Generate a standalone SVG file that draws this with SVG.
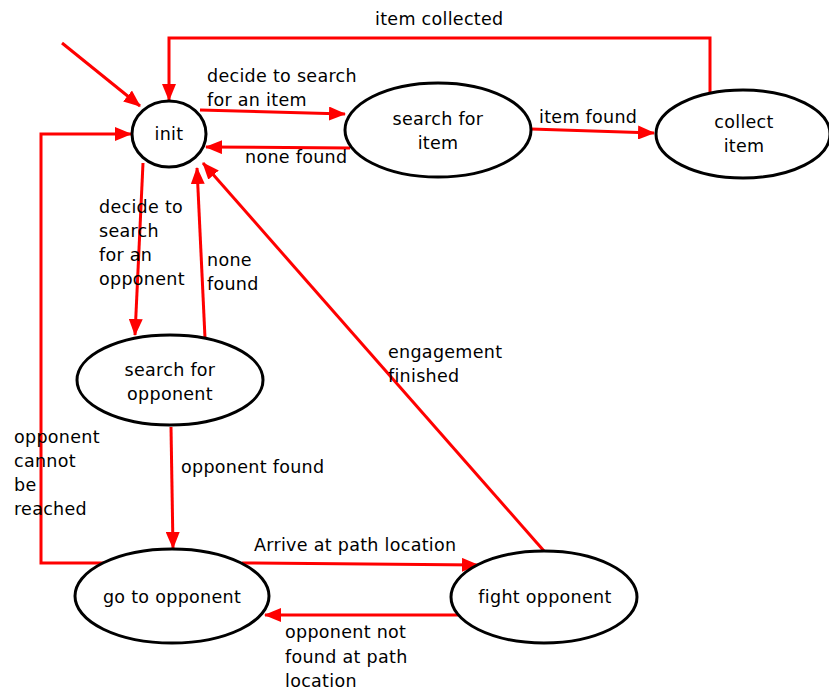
<svg xmlns="http://www.w3.org/2000/svg" width="829" height="693" viewBox="0 0 829 693">
<style>
text{font-family:"DejaVu Sans","Liberation Sans",sans-serif;font-size:17.5px;letter-spacing:0.3px;fill:#000}
.c{text-anchor:middle}
.n{fill:#fff;stroke:#000;stroke-width:3}
.e{fill:none;stroke:#f00;stroke-width:3;marker-end:url(#ah)}
</style>
<defs>
<marker id="ah" markerUnits="userSpaceOnUse" markerWidth="17" markerHeight="14" refX="16" refY="7" orient="auto">
<path d="M0,0 L17,7 L0,14 z" fill="#f00"/>
</marker>
</defs>
<g id="connectors">
<line class="e" x1="62" y1="43" x2="140" y2="106"/>
<polyline class="e" points="710,92 710,38 169,38 169,100"/>
<line class="e" x1="200" y1="110" x2="345" y2="114"/>
<line class="e" x1="350" y1="148" x2="206" y2="147"/>
<line class="e" x1="531" y1="129" x2="654" y2="133"/>
<line class="e" x1="143" y1="163" x2="135" y2="335"/>
<line class="e" x1="205" y1="338" x2="197" y2="168"/>
<line class="e" x1="544" y1="551" x2="203" y2="163"/>
<line class="e" x1="171" y1="427" x2="173" y2="548"/>
<polyline class="e" points="104,563 41,563 41,134 131,134"/>
<line class="e" x1="242" y1="563" x2="478" y2="565"/>
<line class="e" x1="458" y1="615" x2="265" y2="615"/>
</g>
<g id="labels">
<text x="375" y="25">item collected</text>
<text x="207" y="82">decide to search</text>
<text x="207" y="106">for an item</text>
<text x="245" y="163">none found</text>
<text x="539" y="123">item found</text>
<text x="99" y="213">decide to</text>
<text x="99" y="237">search</text>
<text x="99" y="261">for an</text>
<text x="99" y="285">opponent</text>
<text x="207" y="266">none</text>
<text x="207" y="290">found</text>
<text x="388" y="358">engagement</text>
<text x="388" y="382">finished</text>
<text x="14" y="443">opponent</text>
<text x="14" y="467">cannot</text>
<text x="14" y="491">be</text>
<text x="14" y="515">reached</text>
<text x="181" y="473">opponent found</text>
<text x="254" y="551">Arrive at path location</text>
<text x="285" y="638">opponent not</text>
<text x="285" y="663">found at path</text>
<text x="285" y="687">location</text>
</g>
<g id="init">
<ellipse class="n" cx="169" cy="134" rx="37" ry="33"/>
<text class="c" x="169" y="140">init</text>
</g>
<g id="search-item">
<ellipse class="n" cx="438" cy="130" rx="93" ry="47"/>
<text class="c" x="438" y="125">search for</text>
<text class="c" x="438" y="149">item</text>
</g>
<g id="collect-item">
<ellipse class="n" cx="743" cy="134" rx="87" ry="44"/>
<text class="c" x="744" y="128">collect</text>
<text class="c" x="744" y="152">item</text>
</g>
<g id="search-opponent">
<ellipse class="n" cx="170" cy="380" rx="93" ry="45"/>
<text class="c" x="170" y="376">search for</text>
<text class="c" x="170" y="400">opponent</text>
</g>
<g id="go-to-opponent">
<ellipse class="n" cx="172" cy="596" rx="97" ry="47"/>
<text class="c" x="172" y="603">go to opponent</text>
</g>
<g id="fight-opponent">
<ellipse class="n" cx="544" cy="597" rx="93" ry="46"/>
<text class="c" x="545" y="603">fight opponent</text>
</g>
</svg>
